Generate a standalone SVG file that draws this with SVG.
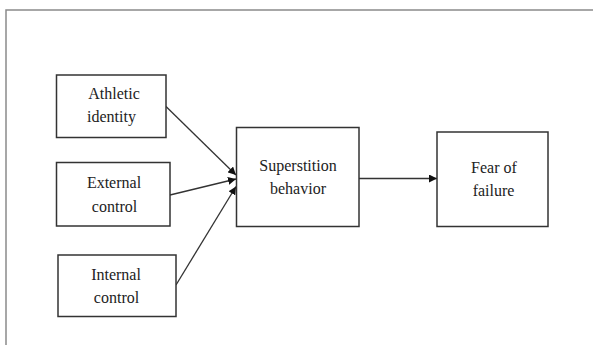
<svg xmlns="http://www.w3.org/2000/svg" width="593" height="345" viewBox="0 0 593 345">
<defs>
<marker id="ah" viewBox="0 0 10 10" refX="10" refY="5" markerWidth="8" markerHeight="8" markerUnits="userSpaceOnUse" orient="auto">
<path d="M0,0 L10,5 L0,10 z" fill="#111"/>
</marker>
<style>
.box{fill:#fff;stroke:#333;stroke-width:1.5}
.t{font-size:16px;fill:#222;text-anchor:middle}
.c{stroke:#333;stroke-width:1.3;fill:none;marker-end:url(#ah)}
.frame{stroke:#8a8a8a;stroke-width:1.5;fill:none}
</style>
</defs>
<rect width="593" height="345" fill="#fff"/>
<path class="frame" d="M593,10 L6,10 L6,345"/>
<g id="connectors">
<line class="c" x1="166" y1="106.5" x2="236" y2="175"/>
<line class="c" x1="170" y1="195" x2="236" y2="179"/>
<line class="c" x1="176" y1="285" x2="236" y2="186.5"/>
<line class="c" x1="359" y1="178.5" x2="437" y2="178.5"/>
</g>
<g font-family="Liberation Serif, DejaVu Serif, serif">
<g id="athletic">
<rect class="box" x="56.5" y="75" width="109.5" height="62.5"/>
<text class="t" x="114" y="99">Athletic</text>
<text class="t" x="111.5" y="122">identity</text>
</g>
<g id="external">
<rect class="box" x="56.5" y="162.5" width="113.5" height="63.5"/>
<text class="t" x="114" y="188">External</text>
<text class="t" x="114.5" y="211.5">control</text>
</g>
<g id="internal">
<rect class="box" x="58" y="255" width="118" height="61.5"/>
<text class="t" x="116" y="280">Internal</text>
<text class="t" x="116.5" y="303">control</text>
</g>
<g id="superstition">
<rect class="box" x="236.5" y="127.5" width="122.5" height="99"/>
<text class="t" x="298" y="170.5" font-size="16.5">Superstition</text>
<text class="t" x="298" y="194" font-size="16.5">behavior</text>
</g>
<g id="fear">
<rect class="box" x="437" y="132" width="111" height="94.5"/>
<text class="t" x="494" y="172.5" font-size="16.5">Fear of</text>
<text class="t" x="493.5" y="196" font-size="16.5">failure</text>
</g>
</g>
</svg>
